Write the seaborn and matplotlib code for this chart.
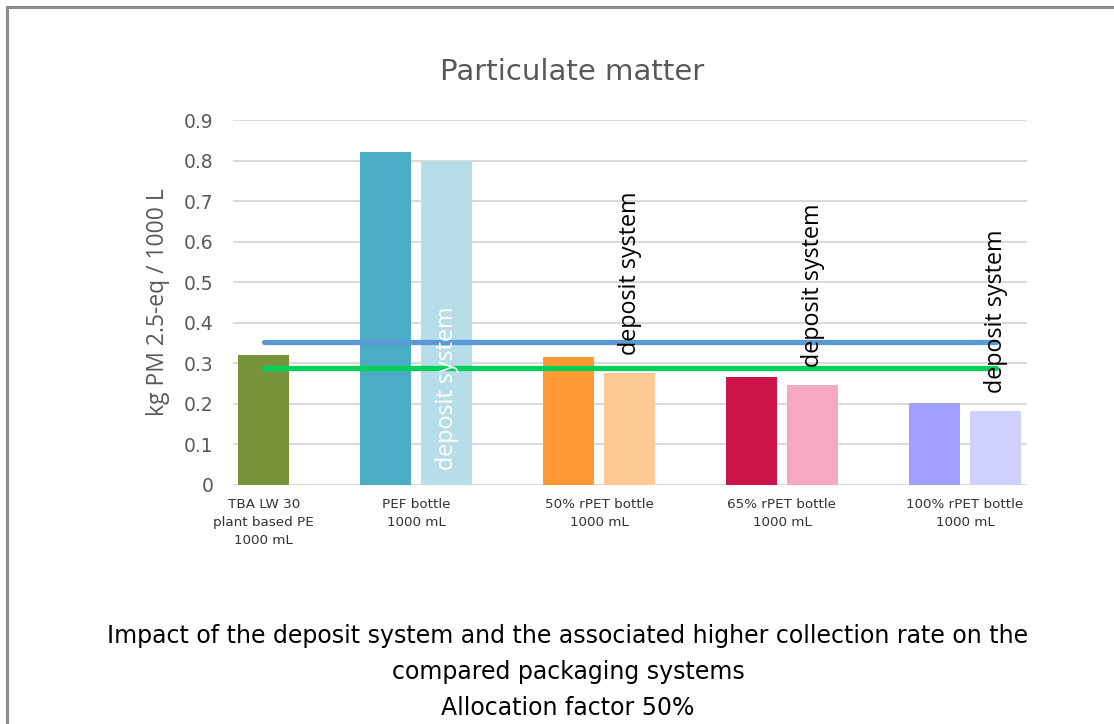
import matplotlib
matplotlib.use("Agg")
import matplotlib.pyplot as plt
from matplotlib.patches import Rectangle
import numpy as np
import pandas as pd
import seaborn as sns

# ---- data -------------------------------------------------------------
categories = [
    "TBA LW 30\nplant based PE\n1000 mL",
    "PEF bottle\n1000 mL",
    "50% rPET bottle\n1000 mL",
    "65% rPET bottle\n1000 mL",
    "100% rPET bottle\n1000 mL",
]
tba_value = 0.32                               # beverage carton, single bar
without_deposit = [0.82, 0.315, 0.267, 0.202]  # bottles, current collection
with_deposit = [0.80, 0.277, 0.246, 0.183]     # bottles, deposit system
reference_blue = 0.352
reference_green = 0.288
deposit_label = "deposit system"

colors_without = ["#4BACC6", "#FF9933", "#CC144A", "#A0A0FF"]
colors_with = ["#B7DDE8", "#FFC993", "#F5A8C0", "#D0D0FF"]
tba_color = "#77933C"

# ---- layout constants -------------------------------------------------
W, H, DPI = 1114, 724, 100
offset = 0.168      # half distance between the paired bars
bar_w = 0.279

sns.set_theme(style="white")
plt.rcParams["font.family"] = ["DejaVu Sans"]
label_font = ["Open Sans", "DejaVu Sans"]

fig = plt.figure(figsize=(W / DPI, H / DPI), dpi=DPI)
ax = fig.add_axes([233 / W, 1 - 485 / H, (1027 - 233) / W, (485 - 120) / H])

centers = np.arange(len(categories), dtype=float)
rows = [{"pos": centers[0] + offset, "value": tba_value, "key": "tba"}]
palette = {"tba": tba_color}
for i, (a, b) in enumerate(zip(without_deposit, with_deposit)):
    c = centers[i + 1]
    rows.append({"pos": c - offset, "value": a, "key": f"a{i}"})
    rows.append({"pos": c + offset, "value": b, "key": f"b{i}"})
    palette[f"a{i}"] = colors_without[i]
    palette[f"b{i}"] = colors_with[i]
df = pd.DataFrame(rows)

min_gap = np.min(np.diff(np.sort(df["pos"].values)))
sns.barplot(data=df, x="pos", y="value", hue="key", palette=palette,
            native_scale=True, dodge=False, legend=False, errorbar=None,
            width=bar_w / min_gap, saturation=1, linewidth=0, ax=ax)

# horizontal reference series spanning first to last category
line_x = [centers[0] + offset, centers[-1] + offset]
line_df = pd.DataFrame({
    "x": line_x * 2,
    "y": [reference_blue] * 2 + [reference_green] * 2,
    "s": ["blue"] * 2 + ["green"] * 2,
})
sns.lineplot(data=line_df, x="x", y="y", hue="s",
             palette={"blue": "#5B9BD5", "green": "#00D05A"},
             linewidth=3.8, legend=False, ax=ax,
             solid_capstyle="round", zorder=4)

# "deposit system" labels on the deposit bars
ax.annotate(deposit_label, xy=(centers[1] + offset, 0), xytext=(0, 11),
            textcoords="offset points", rotation=90, ha="center", va="bottom",
            color="white", fontsize=16.8, family=label_font, zorder=5)
for i in range(1, len(with_deposit)):
    ax.annotate(deposit_label, xy=(centers[i + 1] + offset, with_deposit[i]),
                xytext=(0, 13), textcoords="offset points", rotation=90,
                ha="center", va="bottom", color="black", fontsize=16.8,
                family=label_font, zorder=5)

# axes styling
ax.set_xlim(0, 4.339)
ax.set_ylim(0, 0.9)
ax.set_yticks(np.arange(0, 0.91, 0.1))
ax.set_yticklabels(["0"] + [f"{v:.1f}" for v in np.arange(0.1, 0.91, 0.1)])
ax.yaxis.grid(True, color="#D9D9D9", linewidth=1.4)
ax.set_axisbelow(True)
for s in ax.spines.values():
    s.set_visible(False)
ax.tick_params(axis="y", length=0, pad=14, labelsize=13.5, labelcolor="#595959")
ax.set_xticks([centers[0] + offset] + list(centers[1:]))
ax.set_xticklabels(categories, fontsize=9.7, color="#333333", linespacing=1.55)
ax.tick_params(axis="x", length=0, pad=9)
ax.set_xlabel("")
ax.set_ylabel("")

fig.text(158 / W, 1 - 302 / H, "kg PM 2.5-eq / 1000 L", rotation=90,
         ha="center", va="center", fontsize=16.5, color="#595959",
         family=label_font)
fig.text(572 / W, 1 - 72 / H, "Particulate matter", ha="center", va="center",
         fontsize=21, color="#595959")

caption = ["Impact of the deposit system and the associated higher collection rate on the",
           "compared packaging systems",
           "Allocation factor 50%"]
for k, line in enumerate(caption):
    fig.text(568 / W, 1 - (636 + 36 * k) / H, line, ha="center", va="center",
             fontsize=17, color="black")

# chart frame
fig.patches.append(Rectangle((7 / W, -0.2), 2, 1.2 - 7 / H, transform=fig.transFigure,
                             fill=False, edgecolor="#8C8C8C", linewidth=2.2))

fig.savefig("out.png", dpi=DPI)
